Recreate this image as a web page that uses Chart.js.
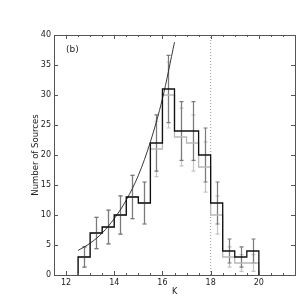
<!DOCTYPE html>
<html>
<head>
<meta charset="utf-8">
<script src="https://cdn.jsdelivr.net/npm/chart.js@4/dist/chart.umd.min.js"></script>
<style>
  html, body { margin: 0; padding: 0; background: #fff; }
  #wrap { width: 306px; height: 301px; }
</style>
</head>
<body>
<div id="wrap"><canvas id="kChart" width="306" height="301"></canvas></div>
<script>
  // bin edges in K (0.5 mag bins)
  const binEdges = [12.5, 13, 13.5, 14, 14.5, 15, 15.5, 16, 16.5, 17, 17.5, 18, 18.5, 19, 19.5, 20];
  // black histogram + its error bars
  const countsAll = [3, 7, 8, 10, 13, 12, 22, 31, 24, 24, 20, 12, 4, 3, 4];
  const errAll = [1.7, 2.6, 2.8, 3.2, 3.6, 3.5, 4.7, 5.6, 4.9, 4.9, 4.5, 3.5, 2.0, 1.7, 2.0];
  // grey histogram + its error bars
  const countsSub = [3, 7, 8, 10, 13, 12, 21, 30, 23, 22, 18, 10, 3, 2, 2];
  const errSub = [1.7, 2.6, 2.8, 3.2, 3.6, 3.5, 4.6, 5.5, 4.8, 4.7, 4.2, 3.2, 1.7, 1.4, 1.4];
  // fitted curve
  const fitK = [12.5, 13, 13.5, 14, 14.5, 15, 15.5, 16, 16.5];
  const fitN = [4.1, 5.3, 7.0, 9.4, 12.5, 16.6, 22.2, 29.4, 38.8];
  // completeness limit
  const cutK = 18;
  // axis ticks
  const xTicks = [12, 14, 16, 18, 20];
  const yTicks = [0, 5, 10, 15, 20, 25, 30, 35, 40];
  const xMinorStep = 0.5;
  const panelLabel = '(b)';

  // step outline: up at first edge, down at last
  function stepPoints(edges, counts) {
    const pts = [{ x: edges[0], y: 0 }];
    counts.forEach((c, i) => pts.push({ x: edges[i], y: c }));
    pts.push({ x: edges[edges.length - 1], y: counts[counts.length - 1] });
    pts.push({ x: edges[edges.length - 1], y: 0 });
    return pts;
  }

  function drawErrors(ctx, xs, ys, counts, errs, color) {
    ctx.save();
    ctx.strokeStyle = color;
    ctx.lineWidth = 1.2;
    for (let i = 0; i < counts.length; i++) {
      const mid = (binEdges[i] + binEdges[i + 1]) / 2;
      const px = Math.round(xs.getPixelForValue(mid)) + 0.5;
      const y1 = ys.getPixelForValue(counts[i] - errs[i]);
      const y2 = ys.getPixelForValue(counts[i] + errs[i]);
      ctx.beginPath();
      ctx.moveTo(px, y1); ctx.lineTo(px, y2);
      ctx.moveTo(px - 2, y1); ctx.lineTo(px + 2, y1);
      ctx.moveTo(px - 2, y2); ctx.lineTo(px + 2, y2);
      ctx.stroke();
    }
    ctx.restore();
  }

  const errorBars = {
    id: 'errorBars',
    beforeDatasetsDraw(chart) {
      const { ctx, scales: { x, y } } = chart;
      drawErrors(ctx, x, y, countsSub, errSub, '#c4c4c4');
      drawErrors(ctx, x, y, countsAll, errAll, '#7a7a7a');
    }
  };

  // frame + inward ticks like matplotlib
  const frame = {
    id: 'frame',
    afterDraw(chart) {
      const { ctx, chartArea: a, scales: { x, y } } = chart;
      ctx.save();
      ctx.strokeStyle = '#555';
      ctx.lineWidth = 1;
      ctx.strokeRect(a.left + 0.5, a.top + 0.5, a.right - a.left, a.bottom - a.top);
      ctx.beginPath();
      for (let k = 12; k <= 21; k += xMinorStep) {
        const px = Math.round(x.getPixelForValue(k)) + 0.5;
        const len = xTicks.includes(k) ? 4 : 2;
        ctx.moveTo(px, a.bottom); ctx.lineTo(px, a.bottom - len);
        ctx.moveTo(px, a.top); ctx.lineTo(px, a.top + len);
      }
      yTicks.forEach(v => {
        const py = Math.round(y.getPixelForValue(v)) + 0.5;
        ctx.moveTo(a.left, py); ctx.lineTo(a.left + 4, py);
        ctx.moveTo(a.right, py); ctx.lineTo(a.right - 4, py);
      });
      ctx.stroke();
      ctx.fillStyle = '#222';
      ctx.font = '9px "DejaVu Sans"';
      ctx.textBaseline = 'middle';
      ctx.fillText(panelLabel, a.left + 12, a.top + 15);
      ctx.restore();
    }
  };

  new Chart(document.getElementById('kChart'), {
    type: 'line',
    data: {
      datasets: [
        {
          data: stepPoints(binEdges, countsAll),
          stepped: 'before',
          borderColor: '#111',
          borderWidth: 1.3,
          pointRadius: 0
        },
        {
          data: fitK.map((k, i) => ({ x: k, y: fitN[i] })),
          borderColor: '#222',
          borderWidth: 0.9,
          cubicInterpolationMode: 'monotone',
          pointRadius: 0
        },
        {
          data: stepPoints(binEdges, countsSub),
          stepped: 'before',
          borderColor: '#b8b8b8',
          borderWidth: 1.3,
          pointRadius: 0
        },
        {
          data: [{ x: cutK, y: 0 }, { x: cutK, y: 40 }],
          borderColor: '#999',
          borderWidth: 1,
          borderDash: [1, 2],
          pointRadius: 0
        }
      ]
    },
    options: {
      responsive: false,
      animation: false,
      devicePixelRatio: 1,
      layout: { padding: { left: 28, top: 35, right: 11, bottom: 0 } },
      plugins: { legend: { display: false }, tooltip: { enabled: false } },
      scales: {
        x: {
          type: 'linear',
          min: 11.5,
          max: 21.5,
          grid: { display: false, drawTicks: false },
          border: { display: false },
          afterBuildTicks: s => { s.ticks = xTicks.map(v => ({ value: v })); },
          afterFit: s => { s.height = 26; },
          ticks: { padding: 3, color: '#222', font: { family: 'DejaVu Sans', size: 8 } },
          title: { display: true, text: 'K', color: '#222', padding: { top: 0, bottom: 4.5 }, font: { family: 'DejaVu Sans', size: 8 } }
        },
        y: {
          min: 0,
          max: 40,
          grid: { display: false, drawTicks: false },
          border: { display: false },
          afterBuildTicks: s => { s.ticks = yTicks.map(v => ({ value: v })); },
          afterFit: s => { s.width = 26; },
          ticks: { padding: 3, color: '#222', font: { family: 'DejaVu Sans', size: 8 } },
          title: { display: true, text: 'Number of Sources', color: '#222', padding: { top: 3, bottom: 0 }, font: { family: 'DejaVu Sans', size: 8.5 } }
        }
      }
    },
    plugins: [errorBars, frame]
  });
</script>
</body>
</html>
